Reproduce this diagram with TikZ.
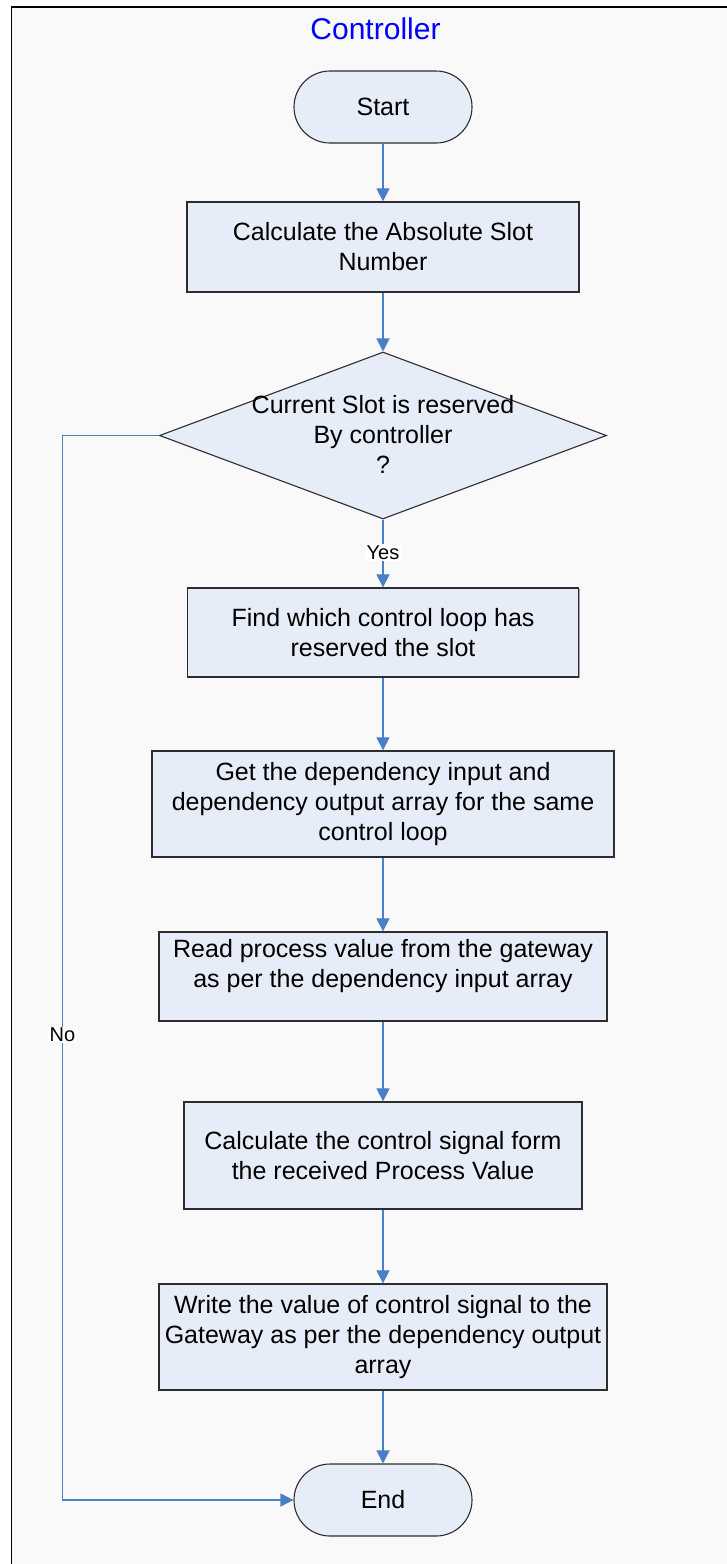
\documentclass[tikz,border=0pt]{standalone}
\usepackage{fontspec}
\setmainfont{Liberation Sans}
\usetikzlibrary{arrows.meta,shapes.geometric,shapes.misc,shadows}

\definecolor{pagebg}{RGB}{249,249,249}
\definecolor{boxfill}{RGB}{231,237,248}
\definecolor{boxline}{RGB}{45,45,45}
\definecolor{flowblue}{RGB}{74,126,200}
\definecolor{titleblue}{RGB}{0,0,255}

\tikzset{
  x=1pt, y=-1pt,
  boxshadow/.style={drop shadow={shadow xshift=1.2pt, shadow yshift=-1.2pt, fill=black, opacity=0.35}},
  stepbox/.style={draw=boxline, line width=1.3pt, fill=boxfill, rectangle, inner sep=0pt,
    align=center, font=\fontsize{25}{30}\selectfont, boxshadow},
  terminal/.style={draw=boxline, line width=1.1pt, fill=boxfill, rounded rectangle,
    minimum width=178pt, minimum height=72pt, inner sep=0pt,
    font=\fontsize{25}{30}\selectfont},
  decision/.style={draw=boxline, line width=1.1pt, fill=boxfill, diamond, inner sep=0pt,
    minimum width=447pt, minimum height=167pt},
  boxtext/.style={align=center, inner sep=0pt, font=\fontsize{25}{30}\selectfont},
  flow/.style={draw=flowblue, line width=1.2pt, -{Triangle[length=13pt,width=13pt]}},
  branchlabel/.style={fill=white, inner sep=1.5pt, font=\fontsize{20}{22}\selectfont}
}

\begin{document}
\begin{tikzpicture}
  \useasboundingbox (0,0) rectangle (727,1564);
  \clip (0,0) rectangle (727,1564);
  \fill[white] (0,0) rectangle (727,1564);

  % swimlane frame, continuing past the right and bottom edges
  \draw[black, line width=1.5pt, fill=pagebg] (11.5,7) rectangle (760,1600);
  \node[font=\fontsize{30}{34}\selectfont, text=titleblue] (title) at (375.5,29) {Controller};

  % flowchart nodes
  \node[terminal] (start) at (383,107) {Start};
  \node[stepbox, minimum width=392pt, minimum height=90pt] (calc) at (383,247)
    {Calculate the Absolute Slot\\Number};
  \node[decision] (dec) at (383,435.5) {};
  \node[boxtext] (dectext) at (383,434) {Current Slot is reserved\\By controller\\?};
  \node[stepbox, minimum width=391pt, minimum height=89pt] (find) at (383,632.5)
    {Find which control loop has\\reserved the slot};
  \node[stepbox, minimum width=462pt, minimum height=106pt] (getdep) at (383,804)
    {Get the dependency input and\\dependency output array for the same\\control loop};
  \node[stepbox, minimum width=448pt, minimum height=89pt] (read) at (383,976.5) {};
  \node[boxtext] (readtext) at (383,966)
    {Read process value from the gateway\\as per the dependency input array};
  \node[stepbox, minimum width=398pt, minimum height=107pt] (ctrl) at (383,1155.5)
    {Calculate the control signal form\\the received Process Value};
  \node[stepbox, minimum width=448pt, minimum height=106pt] (write) at (383,1337)
    {Write the value of control signal to the\\Gateway as per the dependency output\\array};
  \node[terminal] (end) at (383,1500) {End};

  % connectors
  \draw[flow] (start.south) -- (calc.north);
  \draw[flow] (calc.south) -- (dec.north);
  \draw[flow] (dec.south) -- (find.north)
    node[branchlabel, pos=0.49] (yes) {Yes};
  \draw[flow] (find.south) -- (getdep.north);
  \draw[flow] (getdep.south) -- (read.north);
  \draw[flow] (read.south) -- (ctrl.north);
  \draw[flow] (ctrl.south) -- (write.north);
  \draw[flow] (write.south) -- (end.north);

  \coordinate (nocorner) at (62.5,435.5);
  \coordinate (noend) at (62.5,1500);
  \draw[flow] (dec.west) -- (nocorner) -- (noend) -- (end.west);
  \node[branchlabel] (no) at (62.5,1035) {No};
\end{tikzpicture}
\end{document}
